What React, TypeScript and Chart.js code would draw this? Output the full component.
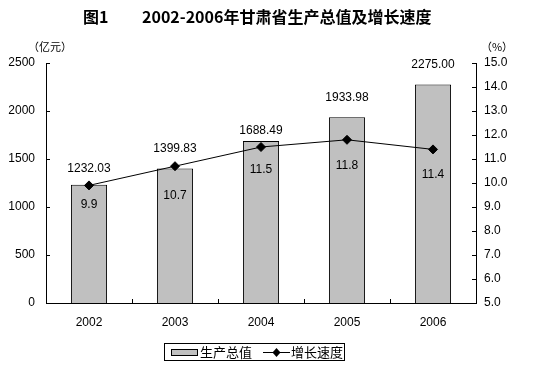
import React, { useEffect, useRef } from "react";
import { Chart, registerables } from "chart.js";

Chart.register(...registerables);

const years = ["2002", "2003", "2004", "2005", "2006"];
const gdp = [1232.03, 1399.83, 1688.49, 1933.98, 2275.0];
const growth = [9.9, 10.7, 11.5, 11.8, 11.4];
const leftTicks = [0, 500, 1000, 1500, 2000, 2500];
const rightTicks = [5, 6, 7, 8, 9, 10, 11, 12, 13, 14, 15];

// label placement offsets (pixels), style only
const barLabelGap = [16, 20, 10, 20, 20];
const lineLabelGap = [19, 29, 23, 26, 25];

const FONT = "'Liberation Sans', Arial, sans-serif";
const CJK = "'Noto Sans CJK SC', sans-serif";

export default function App() {
  const ref = useRef<HTMLCanvasElement | null>(null);

  useEffect(() => {
    const canvas = ref.current!;
    const decor = {
      id: "decor",
      afterDraw(chart: any) {
        const ctx = chart.ctx as CanvasRenderingContext2D;
        const area = chart.chartArea;
        const x = chart.scales.x;
        const y = chart.scales.y;
        const y1 = chart.scales.y1;
        ctx.save();
        ctx.strokeStyle = "#000";
        ctx.lineWidth = 1;
        // inward ticks
        ctx.beginPath();
        leftTicks.forEach((v) => {
          const py = Math.round(y.getPixelForValue(v)) + 0.5;
          ctx.moveTo(area.left, py);
          ctx.lineTo(area.left + 4, py);
        });
        rightTicks.forEach((v) => {
          const py = Math.round(y1.getPixelForValue(v)) + 0.5;
          ctx.moveTo(area.right, py);
          ctx.lineTo(area.right - 4, py);
        });
        for (let i = 1; i < years.length; i++) {
          const px = Math.round((x.getPixelForValue(i - 1) + x.getPixelForValue(i)) / 2) + 0.5;
          ctx.moveTo(px, area.bottom);
          ctx.lineTo(px, area.bottom - 4);
        }
        ctx.stroke();

        // data labels
        ctx.fillStyle = "#000";
        ctx.font = `12px ${FONT}`;
        ctx.textAlign = "center";
        ctx.textBaseline = "middle";
        const barMeta = chart.getDatasetMeta(0);
        const lineMeta = chart.getDatasetMeta(1);
        gdp.forEach((v, i) => {
          const el = barMeta.data[i];
          ctx.fillText(v.toFixed(2), el.x, el.y - barLabelGap[i]);
        });
        growth.forEach((v, i) => {
          const el = lineMeta.data[i];
          ctx.fillText(v.toFixed(1), el.x, el.y + lineLabelGap[i]);
        });

        // title
        ctx.font = `bold 16px ${CJK}`;
        ctx.textAlign = "left";
        ctx.fillText("图1", 83, 17);
        ctx.fillText("2002-2006年甘肃省生产总值及增长速度", 142, 17);

        // unit labels
        ctx.font = `11px ${CJK}`;
        ctx.textAlign = "center";
        ctx.fillText("（亿元）", 50, 47);
        ctx.fillText("（%）", 497, 47);

        // legend
        const lx = 164.5, ly = 343.5, lw = 180, lh = 17;
        ctx.strokeRect(lx, ly, lw, lh);
        ctx.fillStyle = "#c0c0c0";
        ctx.fillRect(171, 349, 26, 6);
        ctx.strokeRect(171.5, 349.5, 26, 6);
        ctx.fillStyle = "#000";
        ctx.font = `13px ${CJK}`;
        ctx.textAlign = "left";
        ctx.fillText("生产总值", 200, 352);
        ctx.beginPath();
        ctx.moveTo(263, 352.5);
        ctx.lineTo(290, 352.5);
        ctx.stroke();
        ctx.beginPath();
        ctx.moveTo(276.5, 348);
        ctx.lineTo(280.5, 352.5);
        ctx.lineTo(276.5, 357);
        ctx.lineTo(272.5, 352.5);
        ctx.closePath();
        ctx.fill();
        ctx.fillText("增长速度", 291, 352);
        ctx.restore();
      },
    };

    const chart = new Chart(canvas, {
      type: "bar",
      data: {
        labels: years,
        datasets: [
          {
            type: "bar",
            label: "生产总值",
            data: gdp,
            backgroundColor: "#c0c0c0",
            borderColor: "#000",
            borderWidth: 1,
            categoryPercentage: 1,
            barPercentage: 0.42,
            yAxisID: "y",
            order: 2,
          },
          {
            type: "line",
            label: "增长速度",
            data: growth,
            borderColor: "#000",
            backgroundColor: "#000",
            borderWidth: 1,
            pointStyle: "rectRot",
            pointRadius: 4.5,
            pointBackgroundColor: "#000",
            yAxisID: "y1",
            order: 1,
          } as any,
        ],
      },
      options: {
        responsive: false,
        animation: false,
        layout: { padding: { top: 63, left: 0, right: 0, bottom: 0 } },
        plugins: { legend: { display: false }, tooltip: { enabled: false }, title: { display: false } },
        scales: {
          x: {
            grid: { display: false, drawTicks: false },
            border: { display: true, color: "#000" },
            ticks: { color: "#000", font: { family: FONT, size: 12 }, padding: 12 },
            afterFit: (s: any) => { s.height = 66; },
          },
          y: {
            position: "left",
            min: 0,
            max: 2500,
            grid: { display: false, drawTicks: false },
            border: { display: true, color: "#000" },
            ticks: {
              stepSize: 500,
              color: "#000",
              font: { family: FONT, size: 12 },
              padding: 11,
              callback: (v: any) => String(v),
            },
            afterFit: (s: any) => { s.width = 46; },
          },
          y1: {
            position: "right",
            min: 5,
            max: 15,
            grid: { display: false, drawTicks: false },
            border: { display: true, color: "#000" },
            ticks: {
              stepSize: 1,
              color: "#000",
              font: { family: FONT, size: 12 },
              padding: 8,
              callback: (v: any) => Number(v).toFixed(1),
            },
            afterFit: (s: any) => { s.width = 62; },
          },
        },
      } as any,
      plugins: [decor],
    });
    return () => chart.destroy();
  }, []);

  return (
    <div style={{ position: "fixed", left: 0, top: 0, width: 538, height: 369, background: "#fff" }}>
      <canvas ref={ref} width={538} height={369} style={{ width: 538, height: 369 }} />
    </div>
  );
}
